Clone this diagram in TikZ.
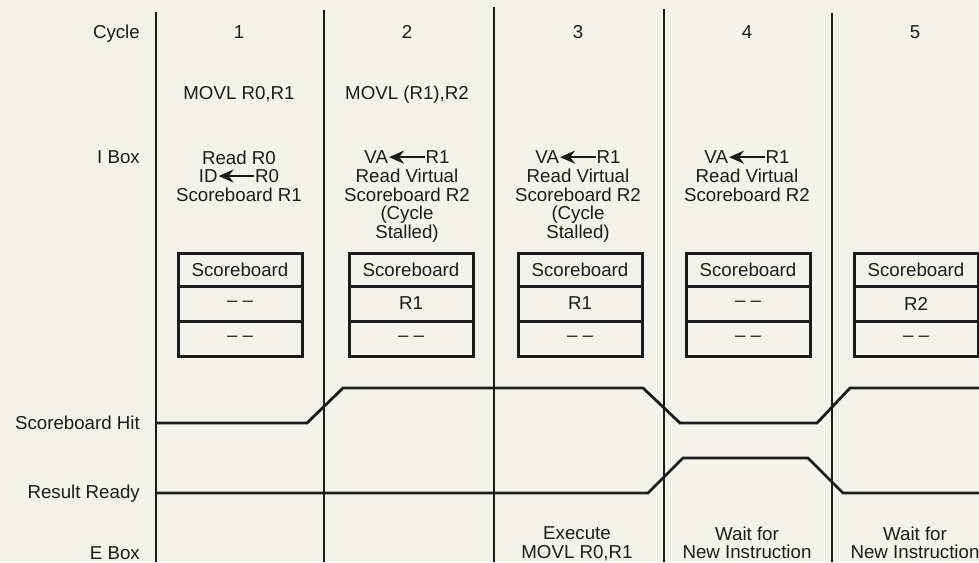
\documentclass[tikz,border=0pt]{standalone}
\usepackage{fontspec}
\setmainfont{Liberation Sans}
\usetikzlibrary{arrows.meta}
\definecolor{paper}{RGB}{244,243,235}
\definecolor{ink}{RGB}{28,28,28}
\newcommand{\lar}{\tikz[baseline=-0.36em]\draw[ink,line width=2.1pt,-{Stealth[length=0.8em,width=0.7em]}] (1.9em,0)--(0,0);}
\begin{document}
\begin{tikzpicture}[x=1pt,y=-1pt,
  font=\fontsize{18.7}{18.6}\selectfont,
  every node/.style={text=ink,inner sep=0pt},
  lbl/.style={anchor=base east},
  txt/.style={anchor=base},
  blk/.style={anchor=north,align=center},
  sep/.style={draw=ink,line width=1.7pt},
  sig/.style={draw=ink,line width=2.8pt},
  sbcell/.style={draw=ink,line width=3pt,minimum width=124pt},
  sbhead/.style={sbcell,minimum height=33pt},
  sbrow/.style={sbcell,minimum height=35pt}]
\fill[paper] (0,0) rectangle (979,562);
\useasboundingbox (0,0) rectangle (979,562);

% separators
\draw[sep] (156,12) -- (156,562);
\draw[sep] (324,10) -- (324,562);
\draw[sep] (494,7) -- (494,562);
\draw[sep] (664,9) -- (664,562);
\draw[sep] (832,13) -- (832,562);

% row labels
\node[lbl] (lcycle) at (140,38.6) {Cycle};
\node[lbl] (libox) at (140,163.6) {I Box};
\node[lbl] (lhit) at (140,429.6) {Scoreboard Hit};
\node[lbl] (lready) at (140,498.6) {Result Ready};
\node[lbl] (lebox) at (140,559.6) {E Box};

% cycle numbers
\node[txt] (n1) at (239,38.6) {1};
\node[txt] (n2) at (407,38.6) {2};
\node[txt] (n3) at (578,38.6) {3};
\node[txt] (n4) at (747,38.6) {4};
\node[txt] (n5) at (915,38.6) {5};

% instructions
\node[txt] (ins1) at (239,99.6) {MOVL R0,R1};
\node[txt] (ins2) at (407,99.6) {MOVL (R1),R2};

% I box
\node[blk] (ib1) at (239,150.4) {Read R0\\ID\lar R0\\Scoreboard R1};
\node[blk] (ib2) at (407,150.4) {VA\lar R1\\Read Virtual\\Scoreboard R2\\(Cycle\\Stalled)};
\node[blk] (ib3) at (578,150.4) {VA\lar R1\\Read Virtual\\Scoreboard R2\\(Cycle\\Stalled)};
\node[blk] (ib4) at (747,150.4) {VA\lar R1\\Read Virtual\\Scoreboard R2};

% scoreboards
\node[sbhead] (s1h) at (240,269.5) {Scoreboard};
\node[sbrow]  (s1a) at (240,303.5) {– –};
\node[sbrow]  (s1b) at (240,338.5) {– –};
\node[sbhead] (s2h) at (411,269.5) {Scoreboard};
\node[sbrow]  (s2a) at (411,303.5) {R1};
\node[sbrow]  (s2b) at (411,338.5) {– –};
\node[sbhead] (s3h) at (580,269.5) {Scoreboard};
\node[sbrow]  (s3a) at (580,303.5) {R1};
\node[sbrow]  (s3b) at (580,338.5) {– –};
\node[sbhead] (s4h) at (748,269.5) {Scoreboard};
\node[sbrow]  (s4a) at (748,303.5) {– –};
\node[sbrow]  (s4b) at (748,338.5) {– –};
\node[sbhead] (s5h) at (916,269.5) {Scoreboard};
\node[sbrow]  (s5a) at (916,303.5) {R2};
\node[sbrow]  (s5b) at (916,338.5) {– –};

% signals
\draw[sig] (156,423) -- (307,423) -- (343,388) -- (643,388) -- (680,423)
  -- (817,423) -- (850,388) -- (979,388);
\draw[sig] (156,493) -- (648,493) -- (683,458) -- (808,458) -- (843,493)
  -- (979,493);

% E box
\node[blk] (eb3) at (577,526.4) {Execute\\MOVL R0,R1};
\node[blk] (eb4) at (747,526.4) {Wait for\\New Instruction};
\node[blk] (eb5) at (915,526.4) {Wait for\\New Instruction};
\end{tikzpicture}
\end{document}
